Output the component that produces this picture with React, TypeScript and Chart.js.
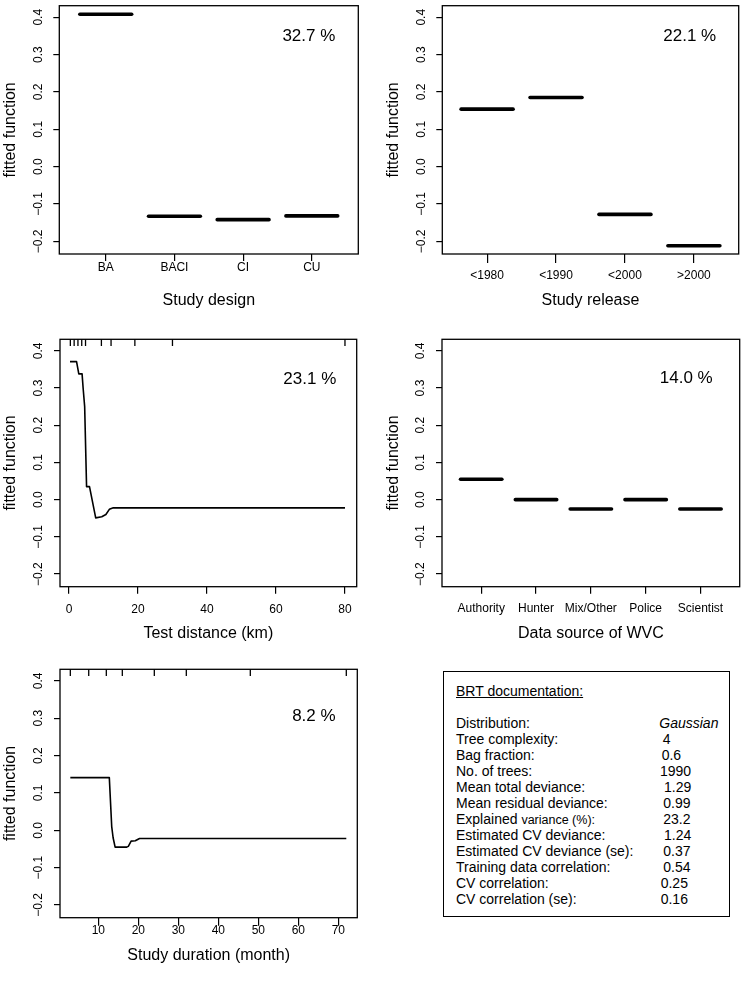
import React, { useEffect, useRef } from "react";
import { Chart, registerables } from "chart.js";

Chart.register(...registerables);

const FONT = '"Liberation Sans", Arial, Helvetica, sans-serif';

// ---------- data ----------
const designCategories = ["BA", "BACI", "CI", "CU"];
const designValues = [0.408, -0.133, -0.142, -0.132];

const releaseCategories = ["<1980", "<1990", "<2000", ">2000"];
const releaseValues = [0.154, 0.185, -0.128, -0.212];

const sourceCategories = ["Authority", "Hunter", "Mix/Other", "Police", "Scientist"];
const sourceValues = [0.055, 0.0, -0.025, 0.0, -0.025];

const distanceX = [0.3, 2.2, 2.85, 3.8, 4.1, 4.55, 5.1, 5.95, 7.75, 9.5, 10.7, 11.7, 12.85, 80];
const distanceY = [0.371, 0.371, 0.338, 0.338, 0.3, 0.25, 0.035, 0.035, -0.049, -0.046, -0.04, -0.026, -0.022, -0.022];
const distanceRug = [0.4, 1.5, 2.6, 3.7, 4.8, 9.4, 12.2, 19.1, 30, 80];
const distanceTicks = [0, 20, 40, 60, 80];

const durationX = [3, 12.75, 13.35, 13.7, 14.2, 17.1, 17.5, 18.2, 19.25, 19.6, 20.3, 72];
const durationY = [0.141, 0.141, 0.01, -0.02, -0.045, -0.045, -0.043, -0.029, -0.028, -0.026, -0.022, -0.022];
const durationRug = [3, 7.6, 12, 16, 24, 32, 48, 72];
const durationTicks = [10, 20, 30, 40, 50, 60, 70];

const yTicks = [-0.2, -0.1, 0, 0.1, 0.2, 0.3, 0.4];
const influenceLabels = ["32.7 %", "22.1 %", "23.1 %", "14.0 %", "8.2 %"];

const brtTitle = "BRT documentation:";
const brtLabels = [
  "Distribution:",
  "Tree complexity:",
  "Bag fraction:",
  "No. of trees:",
  "Mean total deviance:",
  "Mean residual deviance:",
  "Explained variance (%):",
  "Estimated CV deviance:",
  "Estimated CV deviance (se):",
  "Training data correlation:",
  "CV correlation:",
  "CV correlation (se):",
];
const brtValues = ["Gaussian", "4", "0.6", "1990", "1.29", "0.99", "23.2", "1.24", "0.37", "0.54", "0.25", "0.16"];

// ---------- layout (page px) ----------
const brtValueX = [659.3, 662.7, 661.7, 660, 664, 663.3, 663.3, 664, 663.3, 663.3, 660.7, 660.7];

type Pt = { x: number; y: number };
type Panel = {
  id: string;
  left: number;
  top: number;
  width: number;
  height: number;
  area: { l: number; t: number; r: number; b: number };
  xMin: number;
  xMax: number;
  xTicks: number[];
  xLabels: string[];
  xTitle: string;
  tickLen: number;
  tickPad: number;
  xTitlePad: number;
  yTitlePad: number;
  lines: Pt[][];
  lineWidth: number;
  cap: "round" | "butt";
  rug?: number[];
  note: string;
  noteX: number;
  noteY: number;
};

const Y_MIN = -0.234;
const Y_MAX = 0.431;

function factorLines(values: number[], half = 0.377): Pt[][] {
  return values.map((v, i) => [
    { x: i + 1 - half, y: v },
    { x: i + 1 + half, y: v },
  ]);
}
function curve(xs: number[], ys: number[]): Pt[][] {
  return [xs.map((x, i) => ({ x, y: ys[i] }))];
}
const idx = (arr: string[]) => arr.map((_, i) => i + 1);

const panels: Panel[] = [
  {
    id: "design",
    left: 0, top: 0, width: 372, height: 320,
    area: { l: 59.3, t: 5.7, r: 358.3, b: 254 },
    xMin: 0.3235, xMax: 4.677,
    xTicks: idx(designCategories), xLabels: designCategories,
    xTitle: "Study design",
    tickLen: 7, tickPad: -0.7, xTitlePad: 9.9, yTitlePad: 0.8,
    lines: factorLines(designValues), lineWidth: 3.6, cap: "round",
    note: influenceLabels[0], noteX: 3.957, noteY: 0.349,
  },
  {
    id: "release",
    left: 372, top: 0, width: 371, height: 320,
    area: { l: 70.3, t: 5.7, r: 366.7, b: 254 },
    xMin: 0.35, xMax: 4.65,
    xTicks: idx(releaseCategories), xLabels: releaseCategories,
    xTitle: "Study release",
    tickLen: 9, tickPad: 5.6, xTitlePad: 9.9, yTitlePad: 12.4,
    lines: factorLines(releaseValues), lineWidth: 3.6, cap: "round",
    note: influenceLabels[1], noteX: 3.94, noteY: 0.349,
  },
  {
    id: "distance",
    left: 0, top: 320, width: 372, height: 330,
    area: { l: 60, t: 19.3, r: 356.7, b: 266.7 },
    xMin: -2.6, xMax: 83.4,
    xTicks: distanceTicks, xLabels: distanceTicks.map(String),
    xTitle: "Test distance (km)",
    tickLen: 7, tickPad: 8.5, xTitlePad: 6.9, yTitlePad: 0.8,
    lines: curve(distanceX, distanceY), lineWidth: 1.6, cap: "butt",
    rug: distanceRug,
    note: influenceLabels[2], noteX: 69.8, noteY: 0.324,
  },
  {
    id: "source",
    left: 372, top: 320, width: 371, height: 330,
    area: { l: 70, t: 19.3, r: 367.7, b: 266.7 },
    xMin: 0.285, xMax: 5.715,
    xTicks: idx(sourceCategories), xLabels: sourceCategories,
    xTitle: "Data source of WVC",
    tickLen: 7, tickPad: 7.4, xTitlePad: 6.9, yTitlePad: 12.4,
    lines: factorLines(sourceValues), lineWidth: 3.6, cap: "round",
    note: influenceLabels[3], noteX: 4.74, noteY: 0.325,
  },
  {
    id: "duration",
    left: 0, top: 650, width: 372, height: 333,
    area: { l: 60, t: 19.3, r: 357.3, b: 267.7 },
    xMin: 0.42, xMax: 74.75,
    xTicks: durationTicks, xLabels: durationTicks.map(String),
    xTitle: "Study duration (month)",
    tickLen: 8, tickPad: -1.9, xTitlePad: 17.6, yTitlePad: 0.8,
    lines: curve(durationX, durationY), lineWidth: 1.6, cap: "butt",
    rug: durationRug,
    note: influenceLabels[4], noteX: 63.9, noteY: 0.304,
  },
];

function fmtY(v: number): string {
  const s = Math.abs(v).toFixed(1);
  return v < -1e-9 ? "\u2212" + s : s;
}

function PanelChart({ p }: { p: Panel }) {
  const ref = useRef<HTMLCanvasElement | null>(null);

  useEffect(() => {
    const canvas = ref.current;
    if (!canvas) return;

    const decor = {
      id: "rdecor_" + p.id,
      afterDraw(chart: any) {
        const { ctx, chartArea: a, scales } = chart;
        const xs = scales.x;
        const ys = scales.y;
        ctx.save();
        // box
        ctx.strokeStyle = "#000";
        ctx.lineWidth = 1.3;
        ctx.strokeRect(a.left, a.top, a.right - a.left, a.bottom - a.top);
        // rotated y tick labels
        ctx.fillStyle = "#000";
        ctx.font = `12px ${FONT}`;
        ctx.textAlign = "center";
        ctx.textBaseline = "middle";
        yTicks.forEach((v) => {
          const py = ys.getPixelForValue(v);
          ctx.save();
          ctx.translate(a.left - 21, py);
          ctx.rotate(-Math.PI / 2);
          ctx.fillText(fmtY(v), 0, 0);
          ctx.restore();
        });
        // rug
        if (p.rug) {
          ctx.lineWidth = 1.3;
          ctx.beginPath();
          p.rug.forEach((v) => {
            const px = xs.getPixelForValue(v);
            ctx.moveTo(px, a.top);
            ctx.lineTo(px, a.top + 6.7);
          });
          ctx.stroke();
        }
        // relative influence
        ctx.font = `17px ${FONT}`;
        ctx.fillText(p.note, xs.getPixelForValue(p.noteX), ys.getPixelForValue(p.noteY));
        ctx.restore();
      },
    };

    const chart = new Chart(canvas, {
      type: "line",
      data: {
        datasets: p.lines.map((d) => ({
          data: d,
          borderColor: "#000",
          borderWidth: p.lineWidth,
          borderCapStyle: p.cap,
          borderJoinStyle: "round",
          pointRadius: 0,
          tension: 0,
          fill: false,
        })),
      },
      options: {
        animation: false,
        responsive: false,
        maintainAspectRatio: false,
        events: [],
        layout: {
          padding: { left: 0, top: p.area.t, right: p.width - p.area.r, bottom: 0 },
        },
        plugins: {
          legend: { display: false },
          tooltip: { enabled: false },
          title: { display: false },
        },
        scales: {
          x: {
            type: "linear",
            min: p.xMin,
            max: p.xMax,
            afterBuildTicks: (s: any) => {
              s.ticks = p.xTicks.map((v) => ({ value: v }));
            },
            afterFit: (s: any) => {
              s.height = p.height - p.area.b;
            },
            ticks: {
              autoSkip: false,
              maxRotation: 0,
              minRotation: 0,
              padding: p.tickPad,
              color: "#000",
              font: { family: FONT, size: 12 },
              callback: (_v: any, i: number) => p.xLabels[i],
            },
            grid: {
              drawOnChartArea: false,
              drawTicks: true,
              tickLength: p.tickLen,
              color: "#000",
              lineWidth: 1.2,
            },
            border: { display: false },
            title: {
              display: true,
              text: p.xTitle,
              color: "#000",
              font: { family: FONT, size: 16 },
              padding: { top: 0, bottom: p.xTitlePad },
            },
          },
          y: {
            type: "linear",
            min: Y_MIN,
            max: Y_MAX,
            afterBuildTicks: (s: any) => {
              s.ticks = yTicks.map((v) => ({ value: v }));
            },
            afterFit: (s: any) => {
              s.width = p.area.l;
            },
            ticks: { display: false },
            grid: {
              drawOnChartArea: false,
              drawTicks: true,
              tickLength: 6,
              color: "#000",
              lineWidth: 1.2,
            },
            border: { display: false },
            title: {
              display: true,
              text: "fitted function",
              color: "#000",
              font: { family: FONT, size: 16 },
              padding: { top: p.yTitlePad, bottom: 0 },
            },
          },
        },
      } as any,
      plugins: [decor],
    });

    return () => chart.destroy();
  }, [p]);

  return (
    <canvas
      ref={ref}
      width={p.width}
      height={p.height}
      style={{ position: "absolute", left: p.left, top: p.top, width: p.width, height: p.height }}
    />
  );
}

function BrtBox() {
  const lineTop = (capCenter: number) => capCenter - 7.85;
  const base: React.CSSProperties = {
    position: "absolute",
    fontFamily: FONT,
    fontSize: 14,
    lineHeight: "16px",
    color: "#000",
    whiteSpace: "nowrap",
  };
  return (
    <>
      <div
        style={{
          position: "absolute",
          left: 443.3,
          top: 670.7,
          width: 286.7,
          height: 246.6,
          border: "1.3px solid #000",
          boxSizing: "border-box",
        }}
      />
      <div style={{ ...base, left: 456, top: lineTop(690.8), textDecoration: "underline" }}>{brtTitle}</div>
      {brtLabels.map((lab, i) => {
        const top = lineTop(722.7 + i * 16);
        let labelNode: React.ReactNode = lab;
        if (lab.startsWith("Explained ")) {
          labelNode = (
            <>
              Explained <span style={{ fontSize: 12.5 }}>{lab.slice("Explained ".length)}</span>
            </>
          );
        }
        return (
          <React.Fragment key={lab}>
            <div style={{ ...base, left: 456, top }}>{labelNode}</div>
            <div style={{ ...base, left: brtValueX[i], top, fontStyle: i === 0 ? "italic" : "normal" }}>
              {brtValues[i]}
            </div>
          </React.Fragment>
        );
      })}
    </>
  );
}

export default function App() {
  return (
    <div
      style={{
        position: "absolute",
        left: 0,
        top: 0,
        width: 743,
        height: 983,
        background: "#fff",
        overflow: "hidden",
      }}
    >
      {panels.map((p) => (
        <PanelChart key={p.id} p={p} />
      ))}
      <BrtBox />
    </div>
  );
}
